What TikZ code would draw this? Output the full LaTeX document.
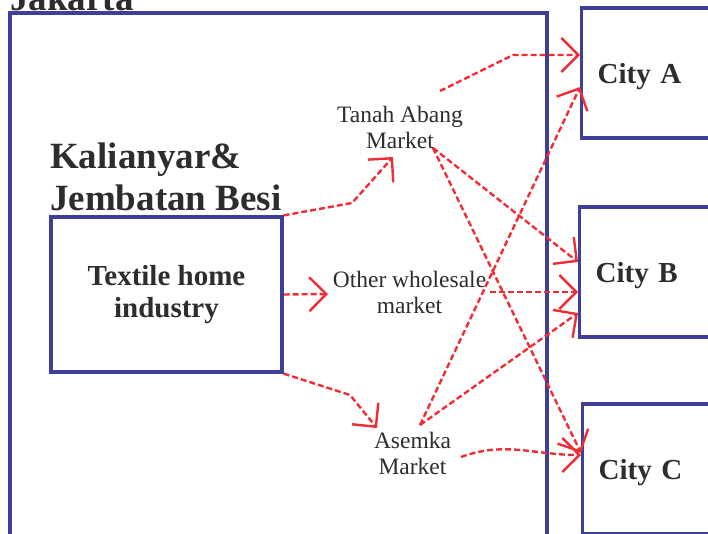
\documentclass[tikz,border=0pt]{standalone}
\usepackage{fontspec}
\setmainfont{Liberation Serif}
\usetikzlibrary{arrows.meta,calc}
\definecolor{boxblue}{RGB}{62,62,155}
\definecolor{flowred}{RGB}{240,45,55}
\definecolor{txtgray}{RGB}{45,45,45}

\begin{document}
\begin{tikzpicture}[x=1pt,y=-1pt,
  box/.style={draw=boxblue,line width=3.2pt,inner sep=0pt,text=txtgray},
  city/.style={box,anchor=west,minimum height=130pt,text width=140pt,text height=22pt,text depth=2pt,align=left,inner xsep=16pt,font=\bfseries\fontsize{29}{32}\selectfont},
  market/.style={font=\fontsize{23.5}{26}\selectfont,text=txtgray,align=center,inner sep=0pt},
  flow/.style={draw=flowred,line width=2.4pt,dash pattern=on 6pt off 3pt,-{Straight Barb[length=17pt,width=34pt]}}]
\clip (0,0) rectangle (708,533);

% Jakarta
\draw[box] (10,13) rectangle (547,560);
\node[anchor=base west,inner sep=0pt,text=txtgray,font=\bfseries\fontsize{37}{42}\selectfont] (jakarta) at (10,10) {Jakarta};
\node[anchor=west,inner sep=0pt,align=left,text=txtgray,font=\bfseries\fontsize{37}{42}\selectfont] (kalianyar) at (50,177) {Kalianyar\&\\Jembatan Besi};
\node[box,minimum width=231pt,minimum height=155pt,align=center,font=\bfseries\fontsize{29}{32}\selectfont] (textile) at (166.5,294.5) {Textile home\\industry};

% Markets
\node[market] (tanah) at (400,127.5) {Tanah Abang\\Market};
\node[market] (other) at (409.5,292) {Other wholesale\\market};
\node[market] (asemka) at (412.5,453.5) {Asemka\\Market};

% Cities
\node[city] (cityA) at (580,73) {City A};
\node[city] (cityB) at (578,272) {City B};
\node[city] (cityC) at (581,469) {City C};

% Arrows
\draw[flow] (textile.north east) -- (352,203) -- ($(tanah)+(-7,29.5)$);
\draw[flow] (textile.east) -- ($(other)+(-81.5,2)$);
\draw[flow] (textile.south east) -- (350,395) -- ($(asemka)+(-35.5,-25.5)$);
\draw[flow] ($(tanah)+(40,-36.5)$) -- (513,55) -- ($(cityA.west)+(0,-18)$);
\draw[flow] ($(tanah)+(33,20.5)$) -- ($(cityB.west)+(0,-10)$);
\draw[flow] ($(tanah)+(33,20.5)$) -- ($(cityC.west)+(0,-16)$);
\draw[flow] ($(other)+(80.5,0)$) -- ($(cityB.west)+(0,20)$);
\draw[flow] ($(asemka)+(7.5,-28.5)$) -- ($(cityA.west)+(0,14)$);
\draw[flow] ($(asemka)+(7.5,-28.5)$) -- ($(cityB.west)+(0,41)$);
\draw[flow] ($(asemka)+(48.5,3.5)$) to[out=20,in=180] ($(cityC.west)+(0,-14)$);

\end{tikzpicture}
\end{document}
